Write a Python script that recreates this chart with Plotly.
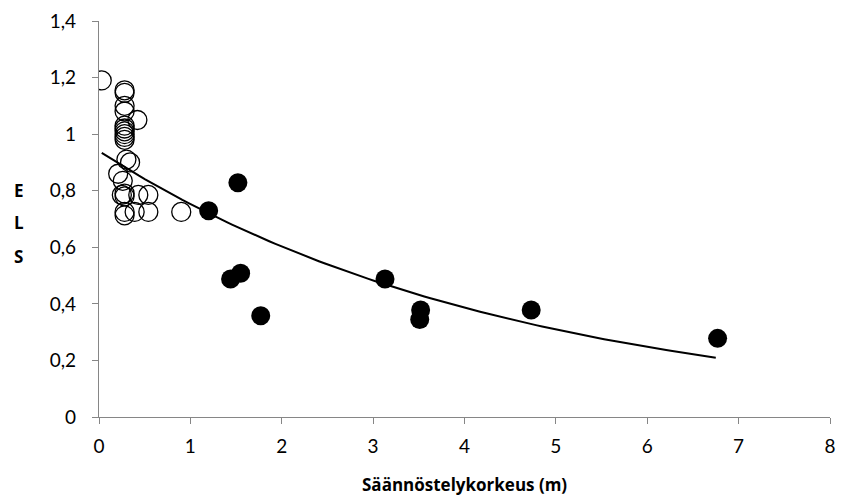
import numpy as np
import plotly.graph_objects as go

# Open circles (unregulated / small regulation)
open_x = [0.03, 0.28, 0.28, 0.28, 0.28, 0.28, 0.28, 0.28, 0.28, 0.28, 0.28, 0.42,
          0.30, 0.34, 0.21, 0.26, 0.28, 0.25, 0.28, 0.43, 0.54, 0.28, 0.28, 0.39, 0.54, 0.90]
open_y = [1.19, 1.155, 1.146, 1.10, 1.08, 1.03, 1.02, 1.01, 1.00, 0.99, 0.98, 1.05,
          0.91, 0.90, 0.86, 0.835, 0.79, 0.785, 0.78, 0.785, 0.785, 0.725, 0.713, 0.725, 0.725, 0.725]

# Filled circles (regulated lakes)
fill_x = [1.20, 1.52, 1.44, 1.55, 1.77, 3.13, 3.52, 3.51, 4.73, 6.77]
fill_y = [0.729, 0.828, 0.488, 0.508, 0.358, 0.488, 0.378, 0.345, 0.378, 0.278]

# Exponential trendline (Excel style: y = a*exp(b x)), fitted to all points
all_x = np.array(open_x + fill_x)
all_y = np.array(open_y + fill_y)
b, ln_a = np.polyfit(all_x, np.log(all_y), 1)
trend_x = np.linspace(0.03, 6.75, 100)
trend_y = np.exp(ln_a) * np.exp(b * trend_x)

x_ticks = [0, 1, 2, 3, 4, 5, 6, 7, 8]
y_ticks = [0, 0.2, 0.4, 0.6, 0.8, 1.0, 1.2, 1.4]
y_tick_text = ["0", "0,2", "0,4", "0,6", "0,8", "1", "1,2", "1,4"]

fig = go.Figure()
fig.add_trace(go.Scatter(x=trend_x, y=trend_y, mode="lines",
                         line=dict(color="black", width=2), showlegend=False))
fig.add_trace(go.Scatter(x=open_x, y=open_y, mode="markers",
                         marker=dict(symbol="circle-open", size=19,
                                     color="black", line=dict(width=1.3)),
                         showlegend=False))
fig.add_trace(go.Scatter(x=fill_x, y=fill_y, mode="markers",
                         marker=dict(symbol="circle", size=19, color="black"),
                         showlegend=False))

axis_common = dict(showgrid=False, zeroline=False, showline=True,
                   linecolor="#868686", linewidth=1.3,
                   ticks="outside", tickcolor="#868686", ticklen=6, tickwidth=1,
                   tickfont=dict(family="Lato, Open Sans, sans-serif", size=19, color="black"))

fig.update_xaxes(range=[0, 8], tickvals=x_ticks, ticklabelstandoff=6, **axis_common)
fig.update_yaxes(range=[0, 1.4], tickvals=y_ticks, ticktext=y_tick_text,
                 ticklabelstandoff=12, **axis_common)

font_title = dict(family="Open Sans, sans-serif", size=17, color="black")
annotations = [
    dict(text="<b>Säännöstelykorkeus (m)</b>", x=0.5, y=-0.17, xref="paper", yref="paper",
         xanchor="center", yanchor="middle", showarrow=False, font=font_title),
]
for letter, ypx in zip(["E", "L", "S"], [190, 222, 256]):
    annotations.append(dict(text=f"<b>{letter}</b>", x=18, y=ypx, xref="paper", yref="paper",
                            showarrow=False, font=font_title))
# convert pixel coords for ELS annotations into paper coords
plot_l, plot_r, plot_t, plot_b = 99, 836, 21, 417
for a in annotations[1:]:
    px, py = a["x"], a["y"]
    a["x"] = (px - plot_l) / (plot_r - plot_l)
    a["y"] = (plot_b - py) / (plot_b - plot_t)
    a["xanchor"] = "center"
    a["yanchor"] = "middle"

fig.update_layout(
    width=845, height=501,
    margin=dict(l=99, r=845 - 836, t=21, b=501 - 417),
    plot_bgcolor="white", paper_bgcolor="white",
    annotations=annotations,
)

fig.write_html("out.html")
